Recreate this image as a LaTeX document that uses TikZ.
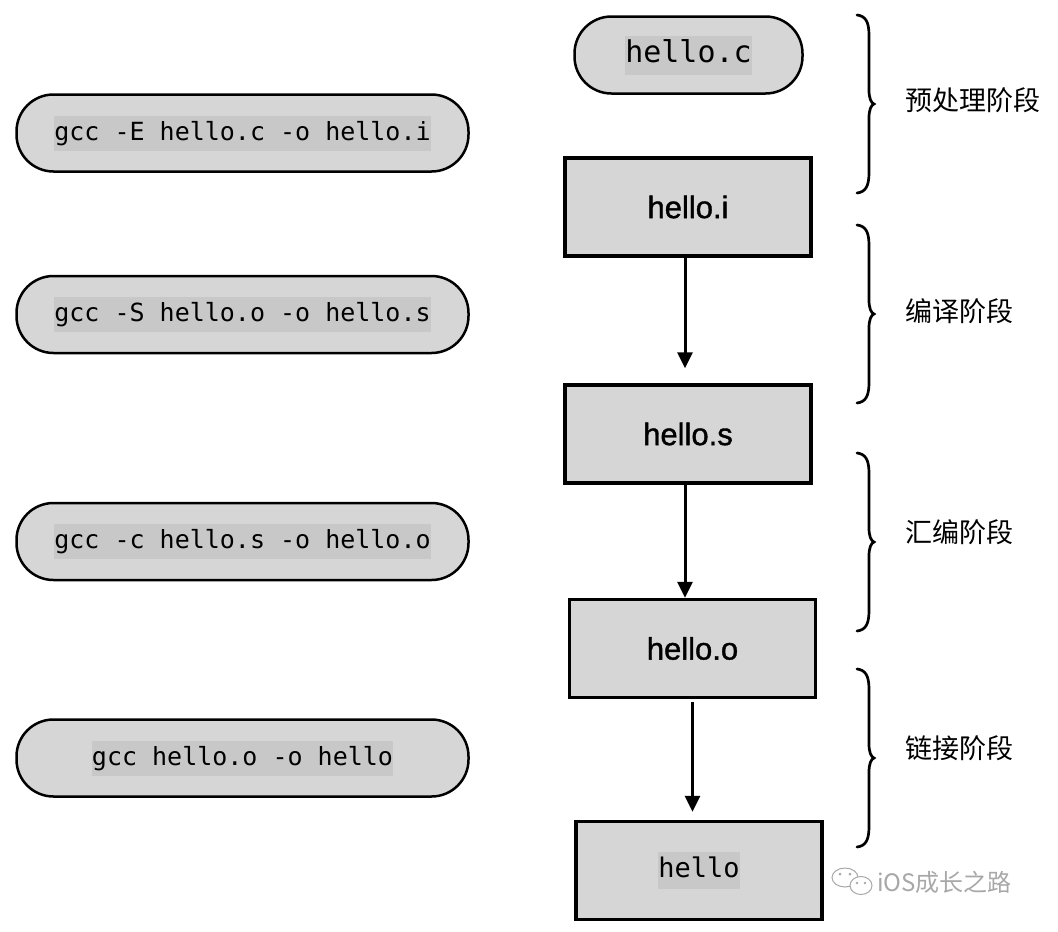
\documentclass[tikz,border=0pt]{standalone}
\usepackage{fontspec}
\setmainfont{Liberation Sans}
\setmonofont{DejaVu Sans Mono}
\newfontfamily\cjk{Noto Sans CJK SC}
\newfontfamily\labelsans[FakeBold=1.2]{Liberation Sans}
\usetikzlibrary{arrows.meta}
\definecolor{boxgray}{HTML}{D6D6D6}
\definecolor{hlgray}{HTML}{C8C8C8}
\definecolor{wmgray}{HTML}{A8A8A8}
\newcommand\hlt[1]{{\setlength\fboxsep{0pt}\colorbox{hlgray}{\strut#1}}}
\tikzset{
  cmdpill/.style={draw=black, fill=boxgray, line width=2.5pt, rounded corners=37pt,
    minimum width=452pt, minimum height=77pt, inner sep=0pt,
    font=\ttfamily\fontsize{25}{35}\selectfont},
  filebox/.style={draw=black, fill=boxgray, line width=3.5pt,
    minimum width=246pt, minimum height=98pt, inner sep=0pt,
    font=\labelsans\fontsize{31}{37}\selectfont},
  stagelabel/.style={anchor=west, inner sep=0pt, font=\cjk\fontsize{27}{32}\selectfont},
  arr/.style={line width=3pt, -{Triangle[width=15pt,length=16pt]}},
  stagebr/.pic={
    \draw[line width=2.7pt, line cap=round]
      (-12,-89) .. controls (-4,-88) and (0,-83) .. (0,-69) -- (0,-14)
      .. controls (0,-6) and (2,-1) .. (5,0)
      .. controls (2,1) and (0,6) .. (0,14) -- (0,69)
      .. controls (0,83) and (-4,88) .. (-12,89);
  }
}
\begin{document}
\begin{tikzpicture}[x=1pt,y=-1pt]
\useasboundingbox (0,0) rectangle (1058,932);
% right column
\node[cmdpill, minimum width=228pt, font=\ttfamily\fontsize{30}{39}\selectfont] (hc) at (688.5,55) {\hlt{hello.c}};
\node[filebox] (hi) at (688,207) {hello.i};
\node[filebox] (hs) at (688,434) {hello.s};
\node[filebox] (ho) at (692.5,648.5) {hello.o};
\node[filebox, font=\ttfamily\fontsize{27}{37}\selectfont] (hh) at (699,870.5) {\hlt{hello}};
% arrows
\draw[arr, shorten >=15pt] ([xshift=-3pt]hi.south) -- ([xshift=-3pt]hs.north);
\draw[arr] ([xshift=-3pt]hs.south) -- ([xshift=-3pt]hs.south |- ho.north);
\draw[arr, shorten <=3pt, shorten >=8pt] (ho.south) -- (ho.south |- hh.north);
% left commands
\node[cmdpill] (c1) at (242.5,133) {\hlt{gcc -E hello.c -o hello.i}};
\node[cmdpill] (c2) at (242.5,314.5) {\hlt{gcc -S hello.o -o hello.s}};
\node[cmdpill] (c3) at (242.5,541.5) {\hlt{gcc -c hello.s -o hello.o}};
\node[cmdpill] (c4) at (242.5,758) {\hlt{gcc hello.o -o hello}};
% braces
\pic at (869,104) {stagebr};
\pic at (869,314) {stagebr};
\pic at (869,542) {stagebr};
\pic at (869,758) {stagebr};
\node[stagelabel] (s1) at (905,100) {预处理阶段};
\node[stagelabel] (s2) at (905,311) {编译阶段};
\node[stagelabel] (s3) at (905,532) {汇编阶段};
\node[stagelabel] (s4) at (905,748) {链接阶段};
% watermark
\draw[wmgray, line width=1pt, fill=white] (845,877.5) ellipse [x radius=13pt, y radius=9.5pt];
\fill[wmgray] (840,874) circle (1.5pt) (850,874) circle (1.5pt);
\draw[wmgray, line width=1pt, fill=white] (861,885.5) ellipse [x radius=11pt, y radius=9pt];
\fill[wmgray] (857,883) circle (1.3pt) (865,883) circle (1.3pt);
\node[anchor=west, inner sep=0pt, text=wmgray, font=\cjk\fontsize{24}{28}\selectfont] (wm) at (877,882) {iOS成长之路};
\end{tikzpicture}
\end{document}
